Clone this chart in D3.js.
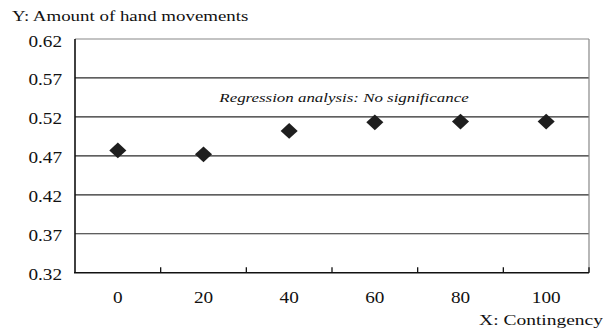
<!DOCTYPE html>
<html><head><meta charset="utf-8">
<script src="https://cdn.jsdelivr.net/npm/d3@7"></script>
<style>body{margin:0;background:#fff}svg{display:block}</style>
</head><body>
<svg id="c" width="603" height="331"></svg>
<script>
const categories = ["0","20","40","60","80","100"];
const values = [0.477, 0.472, 0.502, 0.513, 0.514, 0.514];
const yTicks = [0.32, 0.37, 0.42, 0.47, 0.52, 0.57, 0.62];
const yTitle = "Y: Amount of hand movements";
const xTitle = "X: Contingency";
const note = "Regression analysis: No significance";

const svg = d3.select("#c");
const L = 75, R = 589, T = 39, B = 272.7;
const x = d3.scaleBand().domain(categories).range([L, R]).paddingInner(0).paddingOuter(0);
const y = d3.scaleLinear().domain([0.32, 0.62]).range([B, T]);
const FF = '"Liberation Serif"';

// text placed at (px,py) with horizontal stretch sx
function label(g, px, py, txt, size, sx, anchor, italic){
  const t = g.append("text")
    .attr("transform", `translate(${px},${py}) scale(${sx},1)`)
    .attr("text-anchor", anchor)
    .style("font-family", FF).style("font-size", size + "px")
    .style("font-style", italic ? "italic" : "normal")
    .attr("fill", "#111").text(txt);
  return t;
}

// gridlines
svg.append("g").selectAll("line").data(yTicks.filter(d => d > 0.32 && d < 0.62)).join("line")
  .attr("x1", L).attr("x2", R).attr("y1", d => y(d)).attr("y2", d => y(d))
  .attr("stroke", "#2a2a2a").attr("stroke-width", 1.2);
// top/right border
svg.append("line").attr("x1", L).attr("x2", R).attr("y1", y(0.62)).attr("y2", y(0.62)).attr("stroke", "#888").attr("stroke-width", 1.2);
svg.append("line").attr("x1", R).attr("x2", R).attr("y1", T).attr("y2", B).attr("stroke", "#888").attr("stroke-width", 1.2);

// x axis ticks at band boundaries, pointing up
const bounds = categories.map(c => x(c) + x.bandwidth());
svg.append("g").selectAll("line").data(bounds).join("line")
  .attr("x1", d => d).attr("x2", d => d).attr("y1", B - 5.5).attr("y2", B)
  .attr("stroke", "#111").attr("stroke-width", 1.3);
svg.append("line").attr("x1", L - 1).attr("x2", R).attr("y1", B).attr("y2", B).attr("stroke", "#111").attr("stroke-width", 1.6);
svg.append("line").attr("x1", L).attr("x2", L).attr("y1", T).attr("y2", B).attr("stroke", "#111").attr("stroke-width", 1.6);

// y tick labels
const gy = svg.append("g");
yTicks.forEach(d => label(gy, 62, y(d) + 7.5, d.toFixed(2), 16, 1.2, "end", false));

// x tick labels
const gx = svg.append("g");
categories.forEach(c => label(gx, x(c) + x.bandwidth()/2, 303, c, 16, 1.2, "middle", false));

// markers
const sym = d3.symbol().type(d3.symbolSquare).size(125);
svg.append("g").selectAll("path").data(categories.map((c,i)=>({c, v: values[i]}))).join("path")
  .attr("d", sym)
  .attr("transform", d => `translate(${x(d.c) + x.bandwidth()/2},${y(d.v)}) scale(1.08,1) rotate(45)`)
  .attr("fill", "#1e1e1e");

// titles and note
const gt = svg.append("g");
label(gt, 12, 21, yTitle, 15, 1.26, "start", false);
label(gt, 603, 325, xTitle, 15, 1.3, "end", false);
label(gt, 344, 102, note, 13, 1.3, "middle", true);
</script>
</body></html>
